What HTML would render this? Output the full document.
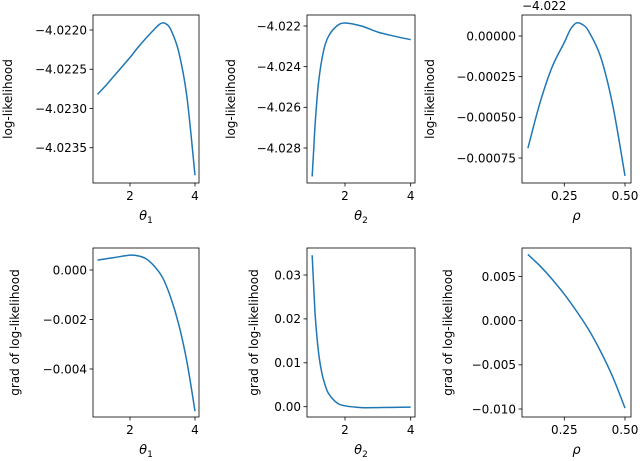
<!DOCTYPE html>
<html><head><meta charset="utf-8">
<style>
html,body{margin:0;padding:0;background:#fff;}
svg{display:block;font-family:"DejaVu Sans","Liberation Sans",sans-serif;}
</style></head>
<body>
<svg id="fig" width="640" height="461" viewBox="0 0 640 461" xmlns="http://www.w3.org/2000/svg"></svg>
<script>
// Panel data
const p1X = [1,1.25,1.5,1.75,2,2.25,2.5,2.75,2.9,3,3.1,3.25,3.5,3.75,4];
const p1Y = [-4.02282,-4.02271,-4.02259,-4.02247,-4.02235,-4.02222,-4.02210,-4.02199,-4.02193,-4.02191,-4.02192,-4.02199,-4.02228,-4.02285,-4.02385];
const p2X = [1,1.05,1.1,1.2,1.35,1.5,1.75,2,2.5,3,3.5,4];
const p2Y = [-4.0294,-4.0280,-4.0266,-4.0247,-4.0232,-4.0225,-4.0220,-4.02185,-4.0220,-4.0223,-4.0225,-4.02267];
const p3X = [0.1,0.15,0.2,0.25,0.275,0.3,0.325,0.35,0.4,0.45,0.5];
const p3Y = [-0.00069,-0.00041,-0.00019,-0.00004,0.00004,0.00008,0.00007,0.00003,-0.00013,-0.00043,-0.00086];
const p4X = [1,1.5,2,2.25,2.5,2.75,3,3.25,3.5,3.75,4];
const p4Y = [0.0004,0.0005,0.0006,0.00057,0.00045,0.00015,-0.0003,-0.0011,-0.0022,-0.0037,-0.0057];
const p5X = [1,1.05,1.1,1.2,1.3,1.4,1.5,1.75,2,2.5,3,3.5,4];
const p5Y = [0.0345,0.027,0.020,0.012,0.0075,0.0048,0.003,0.0009,0.0002,-0.0002,-0.0002,-0.00015,-0.0001];
const p6X = [0.1,0.15,0.2,0.25,0.3,0.35,0.4,0.45,0.5];
const p6Y = [0.0075,0.0062,0.0047,0.0030,0.0011,-0.0010,-0.0035,-0.0064,-0.0099];

const xTicksTheta = [2,4];
const xTickLabelsTheta = ["2","4"];
const xTicksRho = [0.25,0.5];
const xTickLabelsRho = ["0.25","0.50"];
const p1YTicks = [-4.0220,-4.0225,-4.0230,-4.0235];
const p1YTickLabels = ["\u22124.0220","\u22124.0225","\u22124.0230","\u22124.0235"];
const p2YTicks = [-4.022,-4.024,-4.026,-4.028];
const p2YTickLabels = ["\u22124.022","\u22124.024","\u22124.026","\u22124.028"];
const p3YTicks = [0,-0.00025,-0.0005,-0.00075];
const p3YTickLabels = ["0.00000","\u22120.00025","\u22120.00050","\u22120.00075"];
const p4YTicks = [0,-0.002,-0.004];
const p4YTickLabels = ["0.000","\u22120.002","\u22120.004"];
const p5YTicks = [0,0.01,0.02,0.03];
const p5YTickLabels = ["0.00","0.01","0.02","0.03"];
const p6YTicks = [0.005,0,-0.005,-0.01];
const p6YTickLabels = ["0.005","0.000","\u22120.005","\u22120.010"];

const NS = "http://www.w3.org/2000/svg";
const svg = document.getElementById('fig');
function mk(tag, attrs, parent){
  const e = document.createElementNS(NS, tag);
  for (const k in attrs) e.setAttribute(k, attrs[k]);
  (parent||svg).appendChild(e);
  return e;
}
function lin(d0,d1,r0,r1){ return v => r0 + (v-d0)*(r1-r0)/(d1-d0); }
function smoothPath(P){
  let d = 'M'+P[0][0].toFixed(2)+','+P[0][1].toFixed(2);
  for (let i=0;i<P.length-1;i++){
    const p0=P[Math.max(0,i-1)], p1=P[i], p2=P[i+1], p3=P[Math.min(P.length-1,i+2)];
    const c1x=p1[0]+(p2[0]-p0[0])/6, c1y=p1[1]+(p2[1]-p0[1])/6;
    const c2x=p2[0]-(p3[0]-p1[0])/6, c2y=p2[1]-(p3[1]-p1[1])/6;
    d+=' C'+c1x.toFixed(2)+','+c1y.toFixed(2)+' '+c2x.toFixed(2)+','+c2y.toFixed(2)+' '+p2[0].toFixed(2)+','+p2[1].toFixed(2);
  }
  return d;
}

function panel(cfg){
  const g = mk('g', {});
  
  
  const sx = lin(cfg.xd[0], cfg.xd[1], cfg.xr[0], cfg.xr[1]);
  const sy = lin(cfg.yd[0], cfg.yd[1], cfg.yr[0], cfg.yr[1]);
  const L=cfg.box[0], T=cfg.box[1], R=cfg.box[2], B=cfg.box[3];
  cfg.xt.forEach((t,i)=>{
    const x = sx(t);
    const tk = mk('line',{x1:x,x2:x,y1:B,y2:B+3.5,stroke:'#000','stroke-width':0.8},g);
    
    
    const tx = mk('text',{x:x,y:B+17,'font-size':12,'text-anchor':'middle',fill:'#000'},g);
    
    
    tx.textContent = cfg.xtl[i];
  });
  cfg.yt.forEach((t,i)=>{
    const y = sy(t);
    const tk = mk('line',{x1:L-3.5,x2:L,y1:y,y2:y,stroke:'#000','stroke-width':0.8},g);
    
    
    const tx = mk('text',{x:L-6,y:y+4.3,'font-size':12,'text-anchor':'end',fill:'#000'},g);
    
    
    tx.textContent = cfg.ytl[i];
  });
  const P = cfg.x.map((v,i)=>[sx(v), sy(cfg.y[i])]);
  const pl = mk('path',{d:smoothPath(P),fill:'none',stroke:'#1f77b4','stroke-width':1.5,'stroke-linejoin':'round'},g);
  
  
  const fr = mk('rect',{x:L,y:T,width:R-L,height:B-T,fill:'none',stroke:'#000','stroke-width':0.8},g);
  
  
  const xl = mk('text',{x:(L+R)/2,y:B+37,'font-size':13,'text-anchor':'middle','font-style':'italic',fill:'#000'},g);
  
  
  xl.textContent = cfg.xlab[0];
  if (cfg.xlab[1]) {
    const sub = mk('tspan',{'font-size':9,dy:3,'font-style':'normal'},xl);
    sub.textContent = cfg.xlab[1];
  }
  const cy=(T+B)/2;
  const yl = mk('text',{x:cfg.ylx,y:cy,'font-size':12,'text-anchor':'middle',fill:'#000',transform:'rotate(-90 '+cfg.ylx+' '+cy+')'},g);
  
  
  yl.textContent = cfg.ylab;
  if (cfg.offset){
    const ot = mk('text',{x:L,y:T-5,'font-size':12,'text-anchor':'start',fill:'#000'},g);
    
    
    ot.textContent = cfg.offset;
  }
}
const TT=15, TB=183, BT=248, BB=417;
panel({name:'panel-theta1-loglik',box:[93,TT,199,TB],xd:[2,4],xr:[130,195],yd:[-4.0220,-4.0235],yr:[30,147.7],
  x:p1X,y:p1Y,xt:xTicksTheta,xtl:xTickLabelsTheta,yt:p1YTicks,ytl:p1YTickLabels,xlab:['\u03b8','1'],ylab:'log-likelihood',ylx:12});
panel({name:'panel-theta2-loglik',box:[307,TT,415,TB],xd:[2,4],xr:[345,410.7],yd:[-4.022,-4.028],yr:[26,148],
  x:p2X,y:p2Y,xt:xTicksTheta,xtl:xTickLabelsTheta,yt:p2YTicks,ytl:p2YTickLabels,xlab:['\u03b8','2'],ylab:'log-likelihood',ylx:235});
panel({name:'panel-rho-loglik',box:[522,TT,631,TB],xd:[0.25,0.5],xr:[564.3,625],yd:[0,-0.00075],yr:[36,158],
  x:p3X,y:p3Y,xt:xTicksRho,xtl:xTickLabelsRho,yt:p3YTicks,ytl:p3YTickLabels,xlab:['\u03c1',''],ylab:'log-likelihood',ylx:434,offset:'\u22124.022'});
panel({name:'panel-theta1-grad',box:[93,BT,199,BB],xd:[2,4],xr:[130,195],yd:[0,-0.004],yr:[270,369],
  x:p4X,y:p4Y,xt:xTicksTheta,xtl:xTickLabelsTheta,yt:p4YTicks,ytl:p4YTickLabels,xlab:['\u03b8','1'],ylab:'grad of log-likelihood',ylx:19});
panel({name:'panel-theta2-grad',box:[307,BT,415,BB],xd:[2,4],xr:[345,410.7],yd:[0,0.03],yr:[406.7,275],
  x:p5X,y:p5Y,xt:xTicksTheta,xtl:xTickLabelsTheta,yt:p5YTicks,ytl:p5YTickLabels,xlab:['\u03b8','2'],ylab:'grad of log-likelihood',ylx:258});
panel({name:'panel-rho-grad',box:[522,BT,631,BB],xd:[0.25,0.5],xr:[564.3,625],yd:[0,-0.01],yr:[320.7,409],
  x:p6X,y:p6Y,xt:xTicksRho,xtl:xTickLabelsRho,yt:p6YTicks,ytl:p6YTickLabels,xlab:['\u03c1',''],ylab:'grad of log-likelihood',ylx:452});
</script>
</body></html>
